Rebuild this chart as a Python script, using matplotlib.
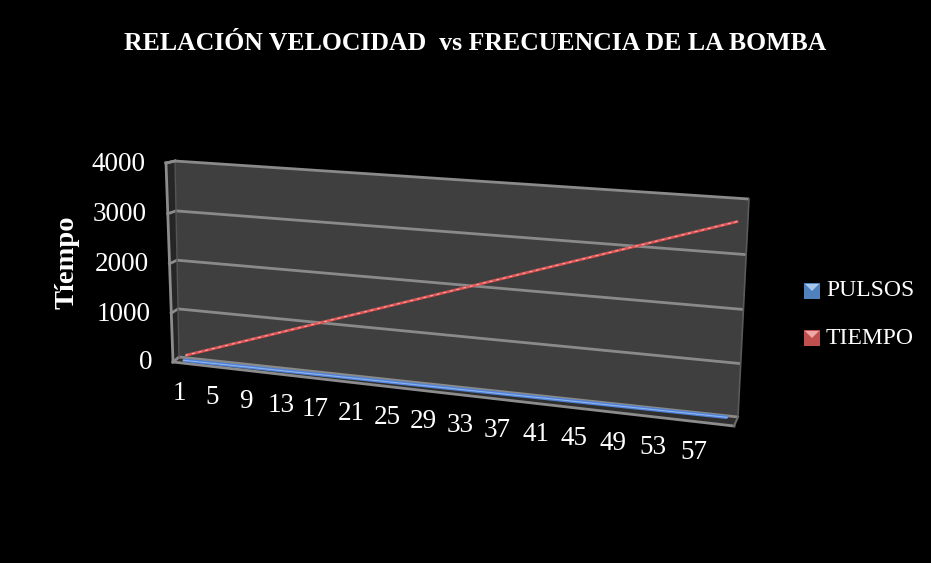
import numpy as np
import matplotlib
matplotlib.use("Agg")
import matplotlib.pyplot as plt
import matplotlib.transforms as mtransforms
from matplotlib.patches import Polygon

# data
categories = list(range(1, 61))
pulsos = [1, 2, 3, 4, 5, 6, 7, 8, 9, 10, 11, 12, 13, 14, 15, 16, 17, 18, 19, 20,
          21, 22, 23, 24, 25, 26, 27, 28, 29, 30, 31, 32, 33, 34, 35, 36, 37, 38, 39, 40,
          41, 42, 43, 44, 45, 46, 47, 48, 49, 50, 51, 52, 53, 54, 55, 56, 57, 58, 59, 60]
tiempo = [60, 120, 180, 240, 300, 360, 420, 480, 540, 600, 660, 720, 780, 840, 900,
          960, 1020, 1080, 1140, 1200, 1260, 1320, 1380, 1440, 1500, 1560, 1620, 1680,
          1740, 1800, 1860, 1920, 1980, 2040, 2100, 2160, 2220, 2280, 2340, 2400, 2460,
          2520, 2580, 2640, 2700, 2760, 2820, 2880, 2940, 3000, 3060, 3120, 3180, 3240,
          3300, 3360, 3420, 3480, 3540, 3600]
x_ticks = list(range(1, 61, 4))
y_ticks = [0, 1000, 2000, 3000, 4000]
series_names = ["PULSOS", "TIEMPO"]

X0, X1 = 0.15, 60.85
Z0, Z1 = 0, 4000

# pixel corners of the back wall (BL, BR, TR, TL) and front offsets
back_px = np.array([[179, 357], [738, 417], [749, 199], [175, 161]], dtype=float)
off_bl = np.array([-6.0, 5.0])
off_br = np.array([-4.0, 9.0])
off_tl = np.array([-9.0, 2.0])


def homography(src, dst):
    A = []
    b = []
    for (x, y), (u, v) in zip(src, dst):
        A.append([x, y, 1, 0, 0, 0, -u * x, -u * y])
        A.append([0, 0, 0, x, y, 1, -v * x, -v * y])
        b += [u, v]
    h = np.linalg.solve(np.array(A), np.array(b))
    return np.append(h, 1).reshape(3, 3)


H = homography([(X0, Z0), (X1, Z0), (X1, Z1), (X0, Z1)], back_px)


class Persp(mtransforms.Transform):
    input_dims = 2
    output_dims = 2

    def __init__(self, d):
        super().__init__()
        self.d = d  # 1 = back wall, 0 = front edge

    def transform_non_affine(self, values):
        values = np.asarray(values, dtype=float)
        pts = np.column_stack([values, np.ones(len(values))]) @ H.T
        out = pts[:, :2] / pts[:, 2:3]
        u = ((values[:, 0] - X0) / (X1 - X0))[:, None]
        v = ((values[:, 1] - Z0) / (Z1 - Z0))[:, None]
        off = off_bl + u * (off_br - off_bl) + v * (off_tl - off_bl)
        return out + (1 - self.d) * off


fig = plt.figure(figsize=(9.31, 5.63), dpi=100, facecolor="black")
ax = fig.add_axes([0, 0, 1, 1])
ax.set_autoscale_on(False)
ax.set_xlim(0, 931)
ax.set_ylim(563, 0)
ax.axis("off")
ax.set_facecolor("black")

back = Persp(1) + ax.transData
front = Persp(0) + ax.transData
pix = ax.transData


def to_px(d, x, z):
    return Persp(d).transform([[x, z]])[0]


edge_col = "#8c8c8c"
grid_col = "#8a8a8a"

# back wall
ax.add_patch(Polygon([(X0, Z0), (X1, Z0), (X1, Z1), (X0, Z1)], closed=True,
                     facecolor="#3f3f3f", edgecolor="none", transform=back, zorder=1))
# left side wall
lw_pts = [to_px(1, X0, Z0), to_px(1, X0, Z1), to_px(0, X0, Z1), to_px(0, X0, Z0)]
ax.add_patch(Polygon(lw_pts, closed=True, facecolor="#262626", edgecolor="none",
                     transform=pix, zorder=1))
# floor
fl_pts = [to_px(1, X0, Z0), to_px(1, X1, Z0), to_px(0, X1, Z0), to_px(0, X0, Z0)]
ax.add_patch(Polygon(fl_pts, closed=True, facecolor="#2e2e2e", edgecolor="none",
                     transform=pix, zorder=1))

# gridlines on back wall + left wall
for z in y_ticks:
    ax.plot([X0, X1], [z, z], color=grid_col, lw=2, transform=back, zorder=2,
            solid_capstyle="butt")
    a, b = to_px(1, X0, z), to_px(0, X0, z)
    ax.plot([a[0], b[0]], [a[1], b[1]], color=grid_col, lw=2, transform=pix, zorder=2)

# wall outlines
ax.plot([X0, X0], [Z0, Z1], color="#555555", lw=1, transform=back, zorder=2)
ax.plot([X1, X1], [Z0, Z1], color="#5a5a5a", lw=1.2, transform=back, zorder=2)
ax.plot([X0, X0], [Z0, Z1], color=edge_col, lw=2, transform=front, zorder=3)
a, b = to_px(1, X0, Z1), to_px(0, X0, Z1)
ax.plot([a[0], b[0]], [a[1], b[1]], color=edge_col, lw=2, transform=pix, zorder=3)
ax.plot([X0, X1], [Z0, Z0], color=edge_col, lw=2, transform=front, zorder=3)
a, b = to_px(1, X1, Z0), to_px(0, X1, Z0)
ax.plot([a[0], b[0]], [a[1], b[1]], color="#6a6a6a", lw=1.5, transform=pix, zorder=3)

# series
blue_tr = Persp(0.5) + ax.transData
red_tr = Persp(0.9) + ax.transData
ax.plot(categories, pulsos, color="#4f81d6", lw=2.6, transform=blue_tr, zorder=4,
        solid_capstyle="butt")
ax.plot(categories, pulsos, color="#8fb4f0", lw=0.8, transform=blue_tr, zorder=4)
ax.plot(categories, tiempo, color="#e05555", lw=2.0, transform=red_tr, zorder=4,
        solid_capstyle="butt")
ax.plot(categories, tiempo, color="#f7b0b0", lw=0.7, ls=(0, (3, 4)),
        transform=red_tr, zorder=4)

font = "Liberation Serif"

# category labels
for c in x_ticks:
    p = to_px(0, c, Z0)
    ax.text(p[0] - 1, p[1] + 31, str(c), color="white", fontsize=19.5, family=font,
            ha="center", va="center", transform=pix)

# value labels
for z in y_ticks:
    p = to_px(0, X0, z)
    ax.text(p[0] - 21, p[1] + 1, str(z), color="white", fontsize=19.5, family=font,
            ha="right", va="center", transform=pix)

# axis title
ax.text(67, 262, "Tíempo", color="white", fontsize=20.5, family=font,
        fontweight="bold", rotation=90, ha="center", va="center", transform=pix)

# title
ax.text(475, 43, "RELACIÓN VELOCIDAD  vs FRECUENCIA DE LA BOMBA", color="white",
        fontsize=18.5, family=font, fontweight="bold", ha="center", va="center",
        transform=pix)

# legend
leg_cols = ["#4f81bd", "#c0504d"]
leg_light = ["#a9c6ee", "#efa8a6"]
for i, (name, col) in enumerate(zip(series_names, leg_cols)):
    yc = 291 + i * 47
    ax.add_patch(Polygon([(804, yc - 8), (820, yc - 8), (820, yc + 8), (804, yc + 8)],
                         closed=True, facecolor=col, edgecolor="none", transform=pix,
                         zorder=5))
    ax.add_patch(Polygon([(805, yc - 7), (819, yc - 7), (812, yc)], closed=True,
                         facecolor=leg_light[i], edgecolor="none", transform=pix,
                         zorder=6))
    ax.text(826, yc, name, color="white", fontsize=17, family=font,
            ha="left", va="center", transform=pix)

fig.savefig("out.png", dpi=100, facecolor="black")
